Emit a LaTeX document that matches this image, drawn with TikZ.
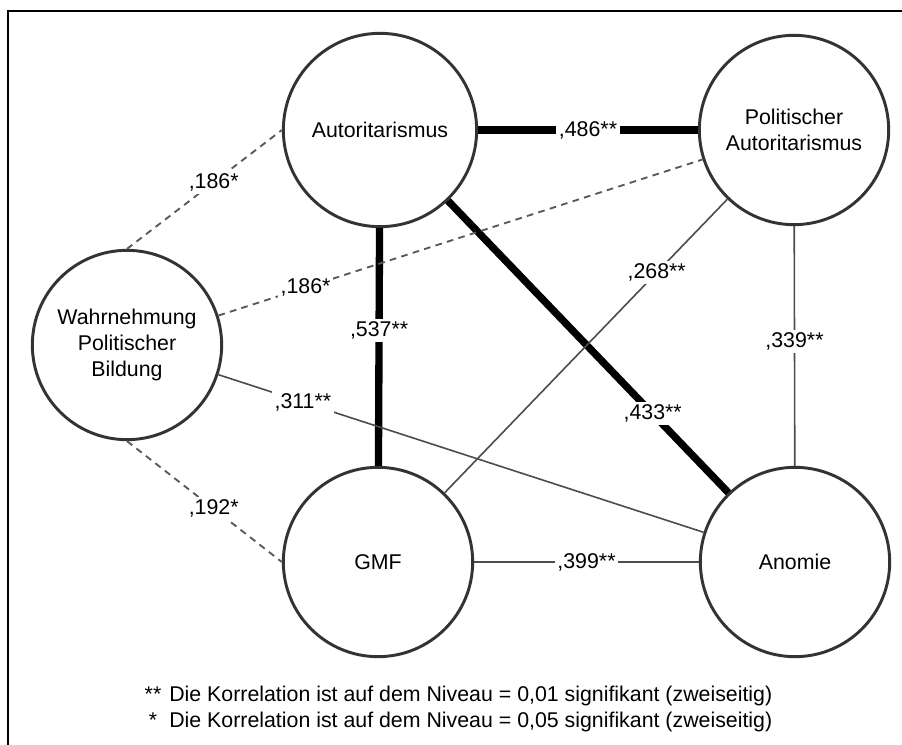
\documentclass[tikz,border=0pt]{standalone}
\usepackage{fontspec}
\setmainfont{Liberation Sans}
\usepackage{tikz}
\tikzset{
    var/.style={
        circle,
        draw=black!80,
        line width=2.2pt,
        fill=white,
        align=center,
        minimum size=142pt,
        inner sep=0pt
    },
    strong/.style={
        line width=5.5pt,
        black
    },
    weak/.style={
        line width=1.2pt,
        black!70
    },
    signif/.style={
        line width=1.4pt,
        black!65,
        dash pattern=on 5pt off 4pt
    },
    wert/.style={
        fill=white,
        text=black,
        inner sep=2pt
    }
}

\begin{document}
\begin{tikzpicture}[x=0.75pt, y=-0.75pt, font=\fontsize{16}{19.5}\selectfont]
    \useasboundingbox (0,0) rectangle (902,745);
    \draw [line width=1.8pt] (8,745) -- (8,11) -- (902,11);
    % Konstrukte
    \node (auto) [var, minimum size=145pt] at (380,130) {Autoritarismus};
    \node (polit) [var] at (794,130) {Politischer\\Autoritarismus};
    \node (wahr) [var] at (127,345) {Wahrnehmung\\Politischer\\Bildung};
    \node (gmf) [var] at (378,562) {GMF};
    \node (anomie) [var] at (795,562) {Anomie};
    % Korrelationen
    \draw [strong] (auto) -- node [wert] {,486**} (polit);
    \draw [strong] (auto) -- node [wert, pos=0.43] {,537**} (gmf);
    \draw [strong] (auto) -- node [wert, pos=0.73] {,433**} (anomie);
    \draw [weak] (polit) -- node [wert, pos=0.25] {,268**} (gmf);
    \draw [weak] (polit) -- node [wert, pos=0.48] {,339**} (anomie);
    \draw [weak] (gmf) -- node [wert] {,399**} (anomie);
    \draw [weak] (wahr) -- node [wert, pos=0.174] {,311**} (anomie);
    \draw [signif] (wahr.north) -- node [wert, pos=0.56] {,186*} (auto.west);
    \draw [signif] (wahr) -- node [wert, pos=0.18] {,186*} (polit);
    \draw [signif] (wahr.south) -- node [wert, pos=0.56] {,192*} (gmf.west);
    % Legende
    \node (legende) [anchor=west] at (140,709) {%
        \begin{tabular}{@{}c@{\hspace{6pt}}l@{}}
        ** & Die Korrelation ist auf dem Niveau = 0,01 signifikant (zweiseitig)\\
        {*} & Die Korrelation ist auf dem Niveau = 0,05 signifikant (zweiseitig)
        \end{tabular}};
\end{tikzpicture}
\end{document}
